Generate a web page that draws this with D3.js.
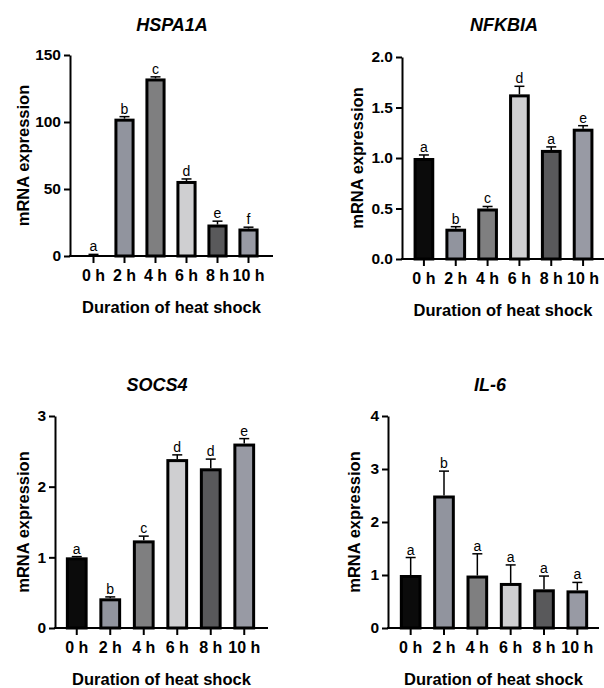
<!DOCTYPE html>
<html>
<head>
<meta charset="utf-8">
<script src="https://cdn.jsdelivr.net/npm/d3@7"></script>
<style>
  body { margin: 0; background: #fff; }
  svg { display: block; }
  text { font-family: 'Liberation Sans', Arial, sans-serif; }
</style>
</head>
<body>
<div id="chart"></div>
<script>
// data
const hours = ['0 h', '2 h', '4 h', '6 h', '8 h', '10 h']

const hspa1aMean = [0.8, 102.5, 132.5, 56, 23.5, 20.5]
const hspa1aErr = [0.4, 1.5, 1.2, 1.5, 2.5, 1]
const hspa1aLetters = ['a', 'b', 'c', 'd', 'e', 'f']
const hspa1aTicks = [0, 50, 100, 150]

const nfkbiaMean = [1.0, 0.3, 0.5, 1.63, 1.08, 1.29]
const nfkbiaErr = [0.03, 0.02, 0.02, 0.08, 0.03, 0.03]
const nfkbiaLetters = ['a', 'b', 'c', 'd', 'a', 'e']
const nfkbiaTicks = [0, 0.5, 1.0, 1.5, 2.0]

const socs4Mean = [1.0, 0.42, 1.24, 2.39, 2.26, 2.61]
const socs4Err = [0.01, 0.02, 0.06, 0.06, 0.13, 0.07]
const socs4Letters = ['a', 'b', 'c', 'd', 'd', 'e']
const socs4Ticks = [0, 1, 2, 3]

const il6Mean = [1.0, 2.5, 0.99, 0.85, 0.73, 0.71]
const il6Err = [0.33, 0.46, 0.41, 0.34, 0.25, 0.15]
const il6Letters = ['a', 'b', 'a', 'a', 'a', 'a']
const il6Ticks = [0, 1, 2, 3, 4]

const barColors = ['#0b0b0b', '#91949e', '#7f7f80', '#cfcfd1', '#59595b', '#989aa4']

const panels = [
  { title: 'HSPA1A', mean: hspa1aMean, err: hspa1aErr, letters: hspa1aLetters, ticks: hspa1aTicks, fmt: d3.format('d'),
    axisX: 70, top: 55, bottom: 256, right: 273, band: [78, 264], titleX: 172, titleY: 31, ylabX: 23 },
  { title: 'NFKBIA', mean: nfkbiaMean, err: nfkbiaErr, letters: nfkbiaLetters, ticks: nfkbiaTicks, fmt: d3.format('.1f'),
    axisX: 402, top: 57, bottom: 259, right: 604, band: [408, 599], titleX: 504, titleY: 31, ylabX: 357 },
  { title: 'SOCS4', mean: socs4Mean, err: socs4Err, letters: socs4Letters, ticks: socs4Ticks, fmt: d3.format('d'),
    axisX: 55, top: 416, bottom: 628, right: 268, band: [60, 261], titleX: 157, titleY: 391, ylabX: 23 },
  { title: 'IL-6', mean: il6Mean, err: il6Err, letters: il6Letters, ticks: il6Ticks, fmt: d3.format('d'),
    axisX: 388, top: 416, bottom: 628, right: 599, band: [394, 594], titleX: 490, titleY: 391, ylabX: 354 }
]

const svg = d3.select('#chart')
  .append('svg')
  .attr('width', 604)
  .attr('height', 688)

panels.forEach((p) => {
  const g = svg.append('g')
  const ticks = p.ticks
  const yScale = d3.scaleLinear()
    .domain([0, ticks[ticks.length - 1]])
    .range([p.bottom, p.top])
  const xScale = d3.scaleBand()
    .domain(hours)
    .range(p.band)
    .paddingInner(0.35)
    .paddingOuter(0.175)

  // title
  g.append('text')
    .attr('x', p.titleX)
    .attr('y', p.titleY)
    .attr('text-anchor', 'middle')
    .style('font-size', '18px')
    .style('font-weight', 'bold')
    .style('font-style', 'italic')
    .text(p.title)

  // bars
  const rows = hours.map((h, i) => ({ h, v: p.mean[i], e: p.err[i], l: p.letters[i], c: barColors[i] }))
  g.selectAll('rect.bar')
    .data(rows)
    .join('rect')
    .attr('class', 'bar')
    .attr('x', (d) => xScale(d.h) + 1.5)
    .attr('width', xScale.bandwidth() - 3)
    .attr('y', (d) => yScale(d.v) + 1.5)
    .attr('height', (d) => Math.max(0, yScale(0) - yScale(d.v) - 1.5))
    .attr('fill', (d) => d.c)
    .attr('stroke', '#000')
    .attr('stroke-width', 3)

  // error bars (upper only)
  const cx = (d) => xScale(d.h) + xScale.bandwidth() / 2
  g.selectAll('line.err')
    .data(rows)
    .join('line')
    .attr('class', 'err')
    .attr('x1', cx).attr('x2', cx)
    .attr('y1', (d) => yScale(d.v))
    .attr('y2', (d) => yScale(d.v + d.e))
    .attr('stroke', '#000')
    .attr('stroke-width', 1.5)
  g.selectAll('line.cap')
    .data(rows)
    .join('line')
    .attr('class', 'cap')
    .attr('x1', (d) => cx(d) - 5).attr('x2', (d) => cx(d) + 5)
    .attr('y1', (d) => yScale(d.v + d.e))
    .attr('y2', (d) => yScale(d.v + d.e))
    .attr('stroke', '#000')
    .attr('stroke-width', 1.5)

  // significance letters
  g.selectAll('text.letter')
    .data(rows)
    .join('text')
    .attr('class', 'letter')
    .attr('x', cx)
    .attr('y', (d) => yScale(d.v + d.e) - 3)
    .attr('text-anchor', 'middle')
    .style('font-size', '14px')
    .text((d) => d.l)

  // y axis
  const yAxis = g.append('g')
    .attr('transform', `translate(${p.axisX},0)`)
    .call(d3.axisLeft(yScale).tickValues(ticks).tickFormat(p.fmt).tickSize(6).tickSizeOuter(0).tickPadding(3))
  yAxis.select('.domain').attr('stroke-width', 2)
  yAxis.selectAll('.tick line').attr('stroke-width', 2)
  yAxis.selectAll('.tick text')
    .style('font-size', '15.5px')
    .style('font-weight', 'bold')
    .style('font-family', "'Liberation Sans', Arial, sans-serif")
    .attr('fill', '#000')

  // x axis
  const xAxis = g.append('g')
    .attr('transform', `translate(0,${p.bottom})`)
    .call(d3.axisBottom(xScale).tickSize(7).tickSizeOuter(0).tickPadding(7))
  xAxis.select('.domain').remove()
  xAxis.selectAll('.tick line').attr('stroke-width', 2)
  xAxis.selectAll('.tick text')
    .style('font-size', '16px')
    .style('font-weight', 'bold')
    .style('font-family', "'Liberation Sans', Arial, sans-serif")
    .attr('fill', '#000')
  g.append('line')
    .attr('x1', p.axisX - 1).attr('x2', p.right)
    .attr('y1', p.bottom).attr('y2', p.bottom)
    .attr('stroke', '#000')
    .attr('stroke-width', 2)

  // axis titles
  g.append('text')
    .attr('x', (p.axisX + p.right) / 2)
    .attr('y', p.bottom + 57)
    .attr('text-anchor', 'middle')
    .style('font-size', '16.5px')
    .style('font-weight', 'bold')
    .text('Duration of heat shock')

  g.append('text')
    .attr('transform', `translate(${p.ylabX},${(p.top + p.bottom) / 2}) rotate(-90)`)
    .attr('text-anchor', 'middle')
    .attr('dy', '0.35em')
    .style('font-size', '16.5px')
    .style('font-weight', 'bold')
    .text('mRNA expression')
})
</script>
</body>
</html>
